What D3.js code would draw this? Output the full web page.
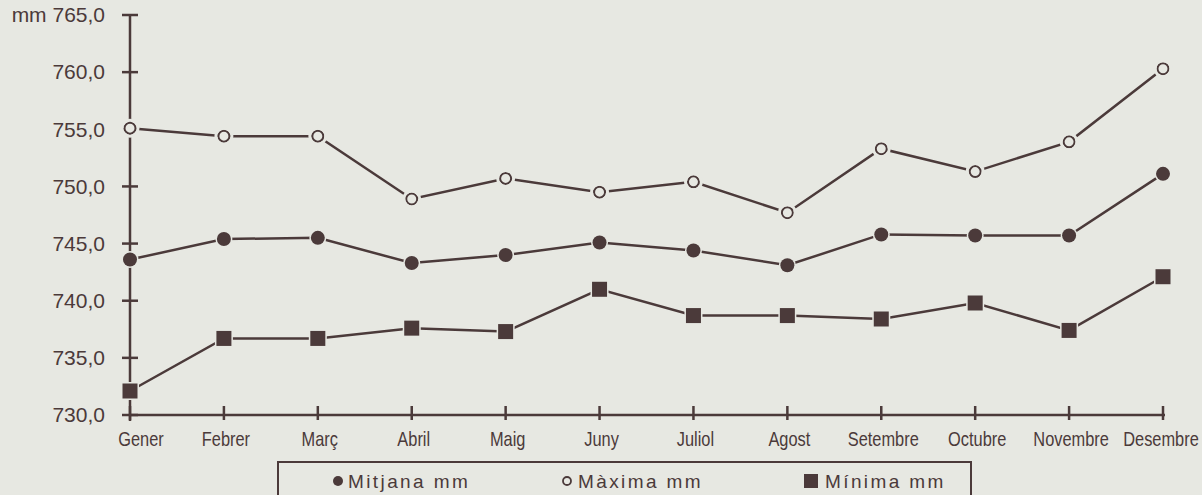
<!DOCTYPE html>
<html>
<head>
<meta charset="utf-8">
<script src="https://cdn.jsdelivr.net/npm/d3@7"></script>
<style>
  html, body { margin: 0; padding: 0; background: #e7e8e2; }
  svg { display: block; }
</style>
</head>
<body>
<script>
var months = ["Gener","Febrer","Març","Abril","Maig","Juny","Juliol","Agost","Setembre","Octubre","Novembre","Desembre"];
var maxima  = [755.1, 754.4, 754.4, 748.9, 750.7, 749.5, 750.4, 747.7, 753.3, 751.3, 753.9, 760.3];
var mitjana = [743.6, 745.4, 745.5, 743.3, 744.0, 745.1, 744.4, 743.1, 745.8, 745.7, 745.7, 751.1];
var minima  = [732.1, 736.7, 736.7, 737.6, 737.3, 741.0, 738.7, 738.7, 738.4, 739.8, 737.4, 742.1];
var yTicks = [730, 735, 740, 745, 750, 755, 760, 765];

var ink = "#4b3a3a", bg = "#e7e8e2";
var W = 1202, H = 495;

var svg = d3.select("body").append("svg").attr("width", W).attr("height", H);
svg.append("rect").attr("width", W).attr("height", H).attr("fill", bg);

var x = d3.scalePoint().domain(months).range([130, 1163]);
var y = d3.scaleLinear().domain([730, 765]).range([415, 15]);

// y axis
var yAxis = d3.axisLeft(y).tickValues(yTicks).tickSize(0).tickPadding(25)
  .tickFormat(function(d){ var s = d.toFixed(1).replace(".", ","); return d == 765 ? "mm " + s : s; });
var gy = svg.append("g").attr("transform", "translate(130,0)").call(yAxis);
gy.select(".domain").remove();
gy.selectAll("text").attr("fill", ink).style("font-family", "'Liberation Sans', Arial, sans-serif").style("font-size", "21px");
svg.append("line").attr("x1", 130).attr("x2", 130).attr("y1", y(765)).attr("y2", 421)
  .attr("stroke", ink).attr("stroke-width", 2.5);
svg.selectAll(".ytick").data(yTicks).enter().append("line")
  .attr("x1", 122).attr("x2", 138).attr("y1", function(d){ return y(d); }).attr("y2", function(d){ return y(d); })
  .attr("stroke", ink).attr("stroke-width", 2.5);

// x axis
svg.append("line").attr("x1", 130).attr("x2", 1165).attr("y1", 415).attr("y2", 415)
  .attr("stroke", ink).attr("stroke-width", 2.5);
svg.selectAll(".xtick").data(months).enter().append("line")
  .attr("x1", function(d){ return x(d); }).attr("x2", function(d){ return x(d); })
  .attr("y1", 406).attr("y2", 420).attr("stroke", ink).attr("stroke-width", 2.5);
svg.selectAll(".xlab").data(months).enter().append("text")
  .attr("transform", function(d, i){
    var dx = i == 0 ? 11 : (i == months.length - 1 ? -2 : 2);
    return "translate(" + (x(d) + dx) + ",446) scale(0.82,1)";
  })
  .attr("text-anchor", "middle").attr("fill", ink)
  .style("font-family", "'Liberation Sans', Arial, sans-serif").style("font-size", "20px")
  .text(function(d){ return d; });

// series
var line = d3.line().x(function(d, i){ return x(months[i]); }).y(function(d){ return y(d); });
[maxima, mitjana, minima].forEach(function(s){
  svg.append("path").attr("d", line(s)).attr("fill", "none").attr("stroke", ink).attr("stroke-width", 2.5);
});

svg.selectAll(".pmax").data(maxima).enter().append("circle")
  .attr("cx", function(d, i){ return x(months[i]); }).attr("cy", function(d){ return y(d); })
  .attr("r", 5.5).attr("fill", bg).attr("stroke", ink).attr("stroke-width", 2);
svg.selectAll(".pmaxh").data(maxima).enter().append("circle")
  .attr("cx", function(d, i){ return x(months[i]); }).attr("cy", function(d){ return y(d); })
  .attr("r", 8).attr("fill", "none").attr("stroke", bg).attr("stroke-width", 3);

svg.selectAll(".pmit").data(mitjana).enter().append("circle")
  .attr("cx", function(d, i){ return x(months[i]); }).attr("cy", function(d){ return y(d); })
  .attr("r", 7).attr("fill", ink).attr("stroke", bg).attr("stroke-width", 3)
  .style("paint-order", "stroke");

svg.selectAll(".pmin").data(minima).enter().append("rect")
  .attr("x", function(d, i){ return x(months[i]) - 7.5; }).attr("y", function(d){ return y(d) - 7.5; })
  .attr("width", 15).attr("height", 15).attr("fill", ink).attr("stroke", bg).attr("stroke-width", 3)
  .style("paint-order", "stroke");

// legend
var lg = svg.append("g");
lg.append("rect").attr("x", 278).attr("y", 462).attr("width", 693).attr("height", 45)
  .attr("fill", "none").attr("stroke", ink).attr("stroke-width", 2);
var legFont = "'Liberation Sans', Arial, sans-serif";
lg.append("circle").attr("cx", 338).attr("cy", 481).attr("r", 5).attr("fill", ink);
lg.append("text").attr("x", 348).attr("y", 488).text("Mitjana mm");
lg.append("circle").attr("cx", 567).attr("cy", 481).attr("r", 4).attr("fill", "none").attr("stroke", ink).attr("stroke-width", 1.8);
lg.append("text").attr("x", 578).attr("y", 488).text("Màxima mm");
lg.append("rect").attr("x", 804).attr("y", 474).attr("width", 14).attr("height", 14).attr("fill", ink);
lg.append("text").attr("x", 825).attr("y", 488).text("Mínima mm");
lg.selectAll("text").attr("fill", ink).style("font-family", legFont).style("font-size", "19px").style("letter-spacing", "2.4px");
</script>
</body>
</html>
